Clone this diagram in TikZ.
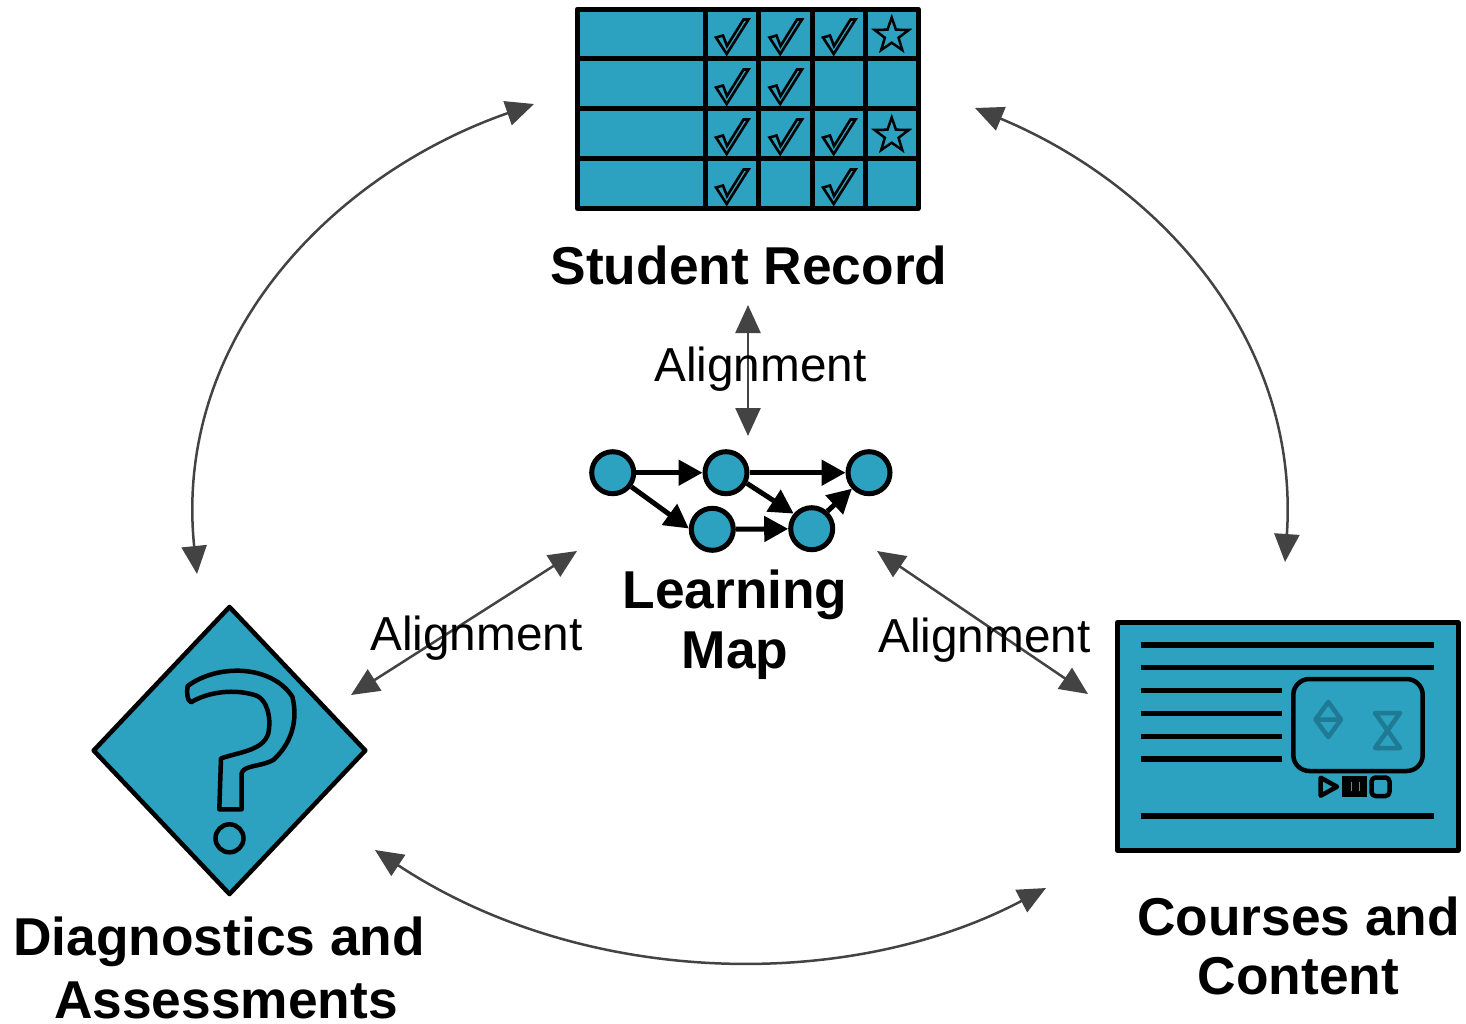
\documentclass[tikz,border=0pt]{standalone}
\usepackage{fontspec}
\setmainfont{Liberation Sans}
\usetikzlibrary{arrows.meta,shapes.geometric}
\definecolor{teal1}{HTML}{2CA2C0}
\definecolor{teal2}{HTML}{1F7A94}
\definecolor{arrowgrey}{HTML}{434343}
\tikzset{
  x=1pt,y=-1pt,
  heading/.style={font=\fontsize{53.3}{58}\selectfont\bfseries,anchor=base,inner sep=0pt},
  alignlabel/.style={font=\fontsize{47.7}{52}\selectfont,anchor=base,inner sep=0pt},
  link/.style={draw=arrowgrey,line width=2.5pt,{Triangle[length=28pt,width=25pt,fill=arrowgrey]}-{Triangle[length=28pt,width=25pt,fill=arrowgrey]}},
  gridline/.style={draw=black,line width=5pt},
  checkmark/.style={draw=black,line width=2.6pt,line join=miter},
  starmark/.style={star,star points=5,star point ratio=2.5,draw=black,line width=2.5pt,minimum size=36pt,inner sep=0pt},
  mapnode/.style={circle,draw=black,fill=teal1,line width=5pt,minimum size=42pt,inner sep=0pt},
  maplink/.style={draw=black,line width=5pt,-{Triangle[length=24pt,width=25pt,fill=black]}},
  textline/.style={draw=black,line width=5.5pt},
  faint/.style={draw=teal2,line width=4.5pt,line join=round},
  ctrl/.style={draw=black,line width=4.5pt,line join=round},
}
\newcommand{\chkmark}[2]{\draw[checkmark,shift={(#1*53.5,#2*50)}] (716,37.5)--(723,35.5)--(727,46)--(743.5,19.5)--(748.5,19.5)--(726.7,54)--cycle;}
\begin{document}
\begin{tikzpicture}
\useasboundingbox (0,0) rectangle (1466,1023);
% student record
\fill[teal1] (577.5,9) rectangle (918,208.5);
\draw[gridline,line join=round] (577.5,9) rectangle (918,208.5);
\foreach \xx in {705,758.5,812,865.5} \draw[gridline] (\xx,9)--(\xx,208.5);
\foreach \yy in {58.5,108.5,158.5} \draw[gridline] (577.5,\yy)--(918,\yy);
\foreach \cc/\rr in {0/0,1/0,2/0,0/1,1/1,0/2,1/2,2/2,0/3,2/3} {\chkmark{\cc}{\rr}}
\node[starmark] (star1) at (891.7,35.5) {};
\node[starmark] (star2) at (891.7,135.5) {};
\node[heading] (record) at (749,284) {Student Record};
% learning map
\node[mapnode] (m1) at (612.7,472.7) {};
\node[mapnode] (m2) at (726,472.7) {};
\node[mapnode] (m3) at (869,472.7) {};
\node[mapnode] (m4) at (712.3,529.3) {};
\node[mapnode] (m5) at (811.7,528.7) {};
\draw[maplink] (m1)--(m2);
\draw[maplink] (m2)--(m3);
\draw[maplink] (m1.-37)--(m4.178);
\draw[maplink] (m2.-27)--(m5.140);
\draw[maplink] (m4)--(m5);
\draw[maplink] (m5.48)--(m3.223);
\node[heading] (learn) at (735,608.5) {Learning};
\node[heading] (mapw) at (735,668) {Map};
% diagnostics
\node[diamond,draw=black,fill=teal1,line width=4.5pt,line join=round,minimum width=273.5pt,minimum height=289pt,inner sep=0pt,aspect=1] (diag) at (229.5,750.5) {};
\begin{scope}[shift={(85,600)},x=0.3333pt,y=-0.3333pt]
\draw[black,line width=4.5pt,line join=round] (308,258) .. controls (400,190) and (560,195) .. (622,290)
 .. controls (640,360) and (620,430) .. (565,480)
 .. controls (530,500) and (475,495) .. (470,520)
 -- (470,628) -- (403,628) -- (408,475)
 .. controls (470,455) and (535,450) .. (550,400)
 .. controls (560,350) and (545,300) .. (515,287)
 .. controls (450,265) and (370,275) .. (318,307)
 .. controls (305,300) and (305,275) .. (308,258) -- cycle;
\end{scope}
\node[circle,draw=black,line width=4.5pt,minimum size=28pt,inner sep=0pt] (dot) at (229.5,838.3) {};
\node[heading] (diagA) at (219,955) {Diagnostics and};
\node[heading] (diagB) at (226,1018) {Assessments};
% courses
\fill[teal1] (1117.5,622.5) rectangle (1458,850.5);
\draw[black,line width=5pt,line join=round] (1117.5,622.5) rectangle (1458,850.5);
\foreach \yy in {645,667.7,816} \draw[textline] (1140.7,\yy)--(1434,\yy);
\foreach \yy in {690.7,713.3,736.3,759} \draw[textline] (1140.7,\yy)--(1281.7,\yy);
\draw[black,line width=4.5pt,rounded corners=16pt] (1293.3,679) rectangle (1422.7,771);
\draw[faint] (1328.3,702)--(1341,719.5)--(1328.3,737)--(1315.5,719.5)--cycle (1315.5,719.5)--(1341,719.5);
\draw[faint] (1375,713)--(1400,713)--(1375,748)--(1400,748)--cycle;
\draw[ctrl] (1320.7,777.7)--(1337,786.7)--(1320.7,795.7)--cycle;
\fill[black] (1342.3,775.7) rectangle (1366.7,797);
\draw[teal1,line width=1pt] (1351,782)--(1351,791) (1359.8,782)--(1359.8,791);
\draw[ctrl,rounded corners=4pt] (1371.5,777.5) rectangle (1389.5,796);
\node[heading] (courseA) at (1298.5,935) {Courses and};
\node[heading] (courseB) at (1298.5,994) {Content};
% connectors
\coordinate (a1) at (534,104);
\coordinate (a2) at (197,574);
\coordinate (b1) at (975,108);
\coordinate (b2) at (1285,562);
\coordinate (c1) at (375,850);
\coordinate (c2) at (1046,888);
\coordinate (d1) at (748,305);
\coordinate (d2) at (748,436);
\coordinate (e1) at (577,551);
\coordinate (e2) at (351,695);
\coordinate (f1) at (877,551);
\coordinate (f2) at (1088,694);
\draw[link] (a1) .. controls (330,175) and (173,340) .. (a2);
\draw[link] (b1) .. controls (1160,185) and (1300,340) .. (b2);
\draw[link] (c1) .. controls (584,988) and (849,992) .. (c2);
\draw[link] (d1)--(d2);
\draw[link] (e1)--(e2);
\draw[link] (f1)--(f2);
\node[alignlabel] (al1) at (760.5,381) {Alignment};
\node[alignlabel] (al2) at (476.5,650) {Alignment};
\node[alignlabel] (al3) at (984.5,652) {Alignment};
\end{tikzpicture}
\end{document}
